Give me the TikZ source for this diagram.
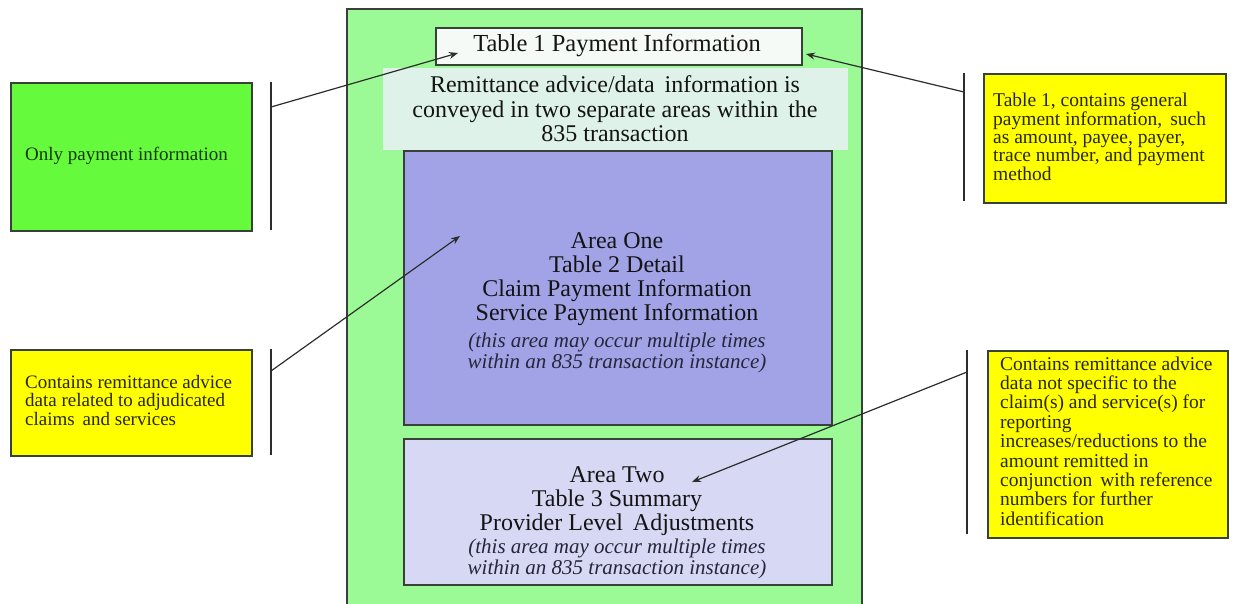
\documentclass[tikz,border=0pt]{standalone}
\usepackage{fontspec}
\setmainfont{Liberation Serif}
\usetikzlibrary{arrows.meta}
\definecolor{outergreen}{RGB}{156,250,150}
\definecolor{palebox}{RGB}{222,242,233}
\definecolor{tablefill}{RGB}{246,250,246}
\definecolor{areaone}{RGB}{161,163,230}
\definecolor{areatwo}{RGB}{214,216,244}
\definecolor{leftgreen}{RGB}{102,250,60}
\definecolor{noteyellow}{RGB}{255,255,0}
\definecolor{boxline}{RGB}{55,65,55}
\definecolor{linegray}{RGB}{45,45,45}
\definecolor{notetext}{RGB}{40,40,8}
\definecolor{greentext}{RGB}{22,55,12}
\definecolor{maintext}{RGB}{20,20,20}
\definecolor{italtext}{RGB}{38,38,58}
\begin{document}
\begin{tikzpicture}[x=1pt,y=-1pt,
  frame/.style={draw=boxline, line width=1.5pt, inner sep=0pt, anchor=north west},
  notetxt/.style={anchor=west, inner sep=0pt, align=left, text=notetext},
  maintxt/.style={inner sep=0pt, align=center, text=maintext},
  italtxt/.style={inner sep=0pt, align=center, text=italtext, font=\fontsize{21}{21.5}\selectfont\itshape},
  conn/.style={draw=linegray, line width=1.2pt, -{Stealth[length=9pt,width=7pt]}},
  bracket/.style={draw=linegray, line width=1.3pt}]
\useasboundingbox (0,0) rectangle (1238,603);
\fill[white] (0,0) rectangle (1238,603);

% central green container
\node[frame, fill=outergreen, minimum width=515pt, minimum height=620pt] (outer) at (346,8) {};

% Table 1 box
\node[frame, fill=tablefill, minimum width=366pt, minimum height=37pt] (table1) at (435,27) {};
\node[maintxt, font=\fontsize{24.5}{25}\selectfont] (table1txt) at (617,45.5) {Table 1 Payment Information};

% Area One
\node[frame, fill=areaone, minimum width=428pt, minimum height=274pt] (area1) at (403,150) {};
\node[maintxt, font=\fontsize{24}{24}\selectfont] (area1txt) at (617,279) {Area One\\Table 2 Detail\\Claim Payment Information\\Service Payment Information};
\node[italtxt] (area1ital) at (617,353) {(this area may occur multiple times\\within an 835 transaction instance)};

% pale banner
\node[fill=palebox, inner sep=0pt, anchor=north west, minimum width=465pt, minimum height=82pt] (banner) at (383,68) {};
\node[maintxt, font=\fontsize{24}{24.5}\selectfont] (bannertxt) at (615,109) {Remittance advice/data\, information is\\conveyed in two separate areas within\, the\\835 transaction};

% Area Two
\node[frame, fill=areatwo, minimum width=428pt, minimum height=146pt] (area2) at (403,438) {};
\node[maintxt, font=\fontsize{24}{24}\selectfont] (area2txt) at (617,501) {Area Two\\Table 3 Summary\\Provider Level\, Adjustments};
\node[italtxt] (area2ital) at (617,559) {(this area may occur multiple times\\within an 835 transaction instance)};

% left notes
\node[frame, fill=leftgreen, minimum width=241pt, minimum height=148pt] (onlypay) at (10,82) {};
\node[notetxt, text=greentext, font=\fontsize{19}{19}\selectfont] (onlypaytxt) at (25,156) {Only payment information};
\node[frame, fill=noteyellow, minimum width=241pt, minimum height=106pt] (adjud) at (10,349) {};
\node[notetxt, font=\fontsize{19}{18.5}\selectfont] (adjudtxt) at (25,400) {Contains remittance advice\\data related to adjudicated\\claims\, and services};

% right notes
\node[frame, fill=noteyellow, minimum width=242pt, minimum height=129pt] (general) at (983,73) {};
\node[notetxt, font=\fontsize{19.5}{17.5}\selectfont] (generaltxt) at (993,137) {Table 1, contains general\\payment information,\, such\\as amount, payee, payer,\\trace number, and payment\\method};
\node[frame, fill=noteyellow, minimum width=240pt, minimum height=187pt] (notspec) at (987,350) {};
\node[notetxt, font=\fontsize{19.5}{19.4}\selectfont] (notspectxt) at (1000,441) {Contains remittance advice\\data not specific to the\\claim(s) and service(s) for\\reporting\\increases/reductions to the\\amount remitted in\\conjunction\, with reference\\numbers for further\\identification};

% bracket lines
\coordinate (b1t) at (271,82);  \coordinate (b1b) at (271,230);
\coordinate (b2t) at (271,349); \coordinate (b2b) at (271,455);
\coordinate (b3t) at (964,73);  \coordinate (b3b) at (964,201);
\coordinate (b4t) at (967,350); \coordinate (b4b) at (967,534);
\draw[bracket] (b1t) -- (b1b);
\draw[bracket] (b2t) -- (b2b);
\draw[bracket] (b3t) -- (b3b);
\draw[bracket] (b4t) -- (b4b);

% arrows
\coordinate (s1) at (271,107); \coordinate (e1) at (458,53);
\coordinate (s2) at (964,92);  \coordinate (e2) at (806,54);
\coordinate (s3) at (271,371); \coordinate (e3) at (460,236);
\coordinate (s4) at (967,372); \coordinate (e4) at (692,482);
\draw[conn] (s1) -- (e1);
\draw[conn] (s2) -- (e2);
\draw[conn] (s3) -- (e3);
\draw[conn] (s4) -- (e4);
\end{tikzpicture}
\end{document}
